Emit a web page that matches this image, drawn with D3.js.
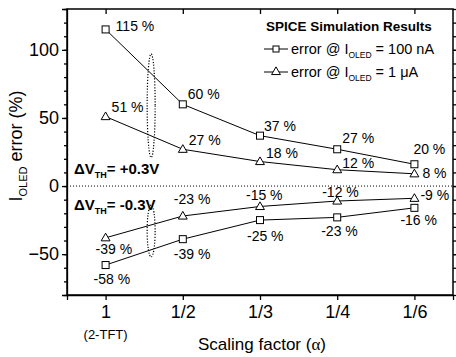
<!DOCTYPE html>
<html>
<head>
<meta charset="utf-8">
<script src="https://cdn.jsdelivr.net/npm/d3@7"></script>
<style>
  body { margin: 0; background: #fff; }
  text { font-family: "Liberation Sans", Arial, sans-serif; fill: #000; }
</style>
</head>
<body>
<script>
// chart data
const categories = ["1", "1/2", "1/3", "1/4", "1/6"];
const posHighValues = [115, 60, 37, 27, 16];   // error @ 100 nA, dVth = +0.3V
const posLowValues = [51, 27, 18, 12, 9];      // error @ 1 uA,  dVth = +0.3V
const negHighValues = [-58, -39, -25, -23, -16];
const negLowValues = [-38, -22, -15, -11, -9];
const posHighLabels = ["115 %", "60 %", "37 %", "27 %", "20 %"];
const posLowLabels = ["51 %", "27 %", "18 %", "12 %", "8 %"];
const negHighLabels = ["-58 %", "-39 %", "-25 %", "-23 %", "-16 %"];
const negLowLabels = ["-39 %", "-23 %", "-15 %", "-12 %", "-9 %"];
const yTicks = [-50, 0, 50, 100];

// label offsets from each point (layout only)
const posHighOff = [[10, 2], [5, -5], [4, -5], [5, -6], [-1, -10]];
const posLowOff = [[6, -5], [6, -4], [6, -4], [5, -2], [8, 4]];
const negHighOff = [[-12, 19], [-9, 20], [-13, 21], [-16, 19], [-14, 17]];
const negLowOff = [[-10, 16], [-9, -12], [-14, -6], [-15, -4], [6, 2]];

const width = 456, height = 357;
const margin = { top: 9, right: 3, bottom: 62, left: 67 };

const svg = d3.select("body")
    .append("svg")
    .attr("width", width)
    .attr("height", height);

const x = d3.scaleLinear()
    .domain([-0.5, categories.length - 0.5])
    .range([margin.left, width - margin.right]);

const y = d3.scaleLinear()
    .domain([-80, 130])
    .range([height - margin.bottom, margin.top]);

const x0 = margin.left, x1 = width - margin.right;
const y0 = height - margin.bottom, y1 = margin.top;
const minorTicks = d3.range(-80, 131, 10);

// axes
const left = svg.append("g")
    .attr("transform", `translate(${x0},0)`)
    .call(d3.axisLeft(y).tickValues(yTicks).tickSize(5).tickPadding(3));
left.selectAll("text").style("font-size", "18px");

svg.append("g")
    .attr("transform", `translate(${x0},0)`)
    .call(d3.axisLeft(y).tickValues(minorTicks).tickSize(3).tickFormat(""))
    .call(g => g.select(".domain").remove());

svg.append("g")
    .attr("transform", `translate(${x1},0)`)
    .call(d3.axisRight(y).tickValues(minorTicks).tickSize(3).tickFormat(""))
    .call(g => g.select(".domain").remove());
svg.append("g")
    .attr("transform", `translate(${x1},0)`)
    .call(d3.axisRight(y).tickValues(yTicks).tickSize(5).tickFormat(""))
    .call(g => g.select(".domain").remove());

const bottom = svg.append("g")
    .attr("transform", `translate(0,${y0})`)
    .call(d3.axisBottom(x).tickValues(d3.range(categories.length))
        .tickFormat(i => categories[i]).tickSize(5).tickPadding(5));
bottom.selectAll("text").style("font-size", "18px");

svg.append("g")
    .attr("transform", `translate(0,${y1})`)
    .call(d3.axisBottom(x).tickValues(d3.range(categories.length)).tickSize(5).tickFormat(""))
    .call(g => g.select(".domain").remove());

svg.selectAll(".domain, .tick line").attr("stroke", "#000").attr("stroke-width", 1.3);

svg.append("rect")
    .attr("x", x0).attr("y", y1)
    .attr("width", x1 - x0).attr("height", y0 - y1)
    .attr("fill", "none").attr("stroke", "#000").attr("stroke-width", 1.5);

// zero line
svg.append("line")
    .attr("x1", x0).attr("x2", x1)
    .attr("y1", y(0)).attr("y2", y(0))
    .attr("stroke", "#000").attr("stroke-width", 1)
    .attr("stroke-dasharray", "1,2");

// series
const line = d3.line().x((d, i) => x(i)).y(d => y(d));
const tri = d3.symbol().type(d3.symbolTriangle).size(34);

function drawSeries(values, labels, offs, marker) {
    svg.append("path")
        .datum(values)
        .attr("d", line)
        .attr("fill", "none")
        .attr("stroke", "#000")
        .attr("stroke-width", 1);
    const g = svg.append("g");
    if (marker === "square") {
        g.selectAll("rect").data(values).join("rect")
            .attr("x", (d, i) => x(i) - 3.5).attr("y", d => y(d) - 3.5)
            .attr("width", 7).attr("height", 7)
            .attr("fill", "#fff").attr("stroke", "#000").attr("stroke-width", 1);
    } else {
        g.selectAll("path").data(values).join("path")
            .attr("d", tri)
            .attr("transform", (d, i) => `translate(${x(i)},${y(d) + 0.5})`)
            .attr("fill", "#fff").attr("stroke", "#000").attr("stroke-width", 1);
    }
    g.selectAll("text").data(values).join("text")
        .attr("x", (d, i) => x(i) + offs[i][0])
        .attr("y", (d, i) => y(d) + offs[i][1])
        .style("font-size", "14px")
        .text((d, i) => labels[i]);
}

drawSeries(posHighValues, posHighLabels, posHighOff, "square");
drawSeries(posLowValues, posLowLabels, posLowOff, "triangle");
drawSeries(negLowValues, negLowLabels, negLowOff, "triangle");
drawSeries(negHighValues, negHighLabels, negHighOff, "square");

// dotted ellipses grouping the pairs
[[0.59, 59, 4, 38], [0.59, -33, 4, 19]].forEach(e => {
    svg.append("ellipse")
        .attr("cx", x(e[0])).attr("cy", y(e[1]))
        .attr("rx", e[2]).attr("ry", y(0) - y(e[3]))
        .attr("fill", "none").attr("stroke", "#000")
        .attr("stroke-width", 1.2).attr("stroke-dasharray", "1.2,1.6");
});

// dVth annotations
function dvth(yPos, sign) {
    const t = svg.append("text")
        .attr("x", 74).attr("y", yPos)
        .style("font-size", "15px").style("font-weight", "bold");
    t.append("tspan").text("ΔV");
    t.append("tspan").attr("dy", 4).style("font-size", "9px").text("TH");
    t.append("tspan").attr("dy", -4).text("= " + sign + "0.3V");
}
dvth(174, "+");
dvth(210, "-");

// legend
svg.append("text")
    .attr("x", 266).attr("y", 31)
    .style("font-size", "13.5px").style("font-weight", "bold")
    .text("SPICE Simulation Results");

const legendRows = [
    { marker: "square", current: "= 100 nA", ly: 49 },
    { marker: "triangle", current: "= 1 \u03BCA", ly: 72 }
];
legendRows.forEach(r => {
    svg.append("line")
        .attr("x1", 264).attr("x2", 288)
        .attr("y1", r.ly).attr("y2", r.ly)
        .attr("stroke", "#000").attr("stroke-width", 1);
    if (r.marker === "square") {
        svg.append("rect").attr("x", 273).attr("y", r.ly - 3)
            .attr("width", 6).attr("height", 6)
            .attr("fill", "#fff").attr("stroke", "#000");
    } else {
        svg.append("path").attr("d", tri)
            .attr("transform", `translate(276,${r.ly})`)
            .attr("fill", "#fff").attr("stroke", "#000");
    }
    const t = svg.append("text")
        .attr("x", 291).attr("y", r.ly + 5)
        .style("font-size", "14.5px");
    t.append("tspan").text("error @ I");
    t.append("tspan").attr("dy", 4).style("font-size", "8.5px").text("OLED");
    t.append("tspan").attr("dy", -4).text(" " + r.current);
});

// axis titles
svg.append("text")
    .attr("x", x(0)).attr("y", 339)
    .attr("text-anchor", "middle")
    .style("font-size", "13px")
    .text("(2-TFT)");

const xt = svg.append("text")
    .attr("x", 262).attr("y", 350)
    .attr("text-anchor", "middle")
    .style("font-size", "17px");
xt.append("tspan").text("Scaling factor (");
xt.append("tspan").style("font-family", "'Liberation Serif', serif").text("\u03B1");
xt.append("tspan").text(")");

const yt = svg.append("text")
    .attr("transform", `translate(22,${(y0 + y1) / 2 - 6}) rotate(-90)`)
    .attr("text-anchor", "middle")
    .style("font-size", "18px");
yt.append("tspan").text("I");
yt.append("tspan").attr("dy", 5).style("font-size", "11px").text("OLED");
yt.append("tspan").attr("dy", -5).text(" error (%)");
</script>
</body>
</html>
